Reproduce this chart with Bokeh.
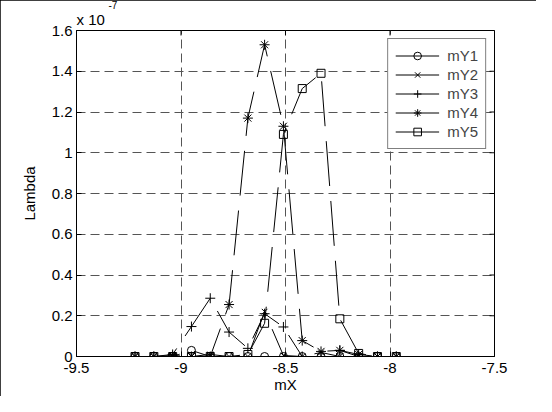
import math
from bokeh.plotting import figure
from bokeh.models import (Range1d, FixedTicker, Legend, LegendItem, Title,
                          ColumnDataSource)
from bokeh.embed import file_html
from bokeh.resources import INLINE

# ---- data (Lambda values in units of 1e-7) ----
mX = [-9.22, -9.13, -9.04, -8.95, -8.86, -8.77, -8.68, -8.60, -8.51, -8.42,
      -8.33, -8.24, -8.15, -8.06, -7.97]
mY1 = [0, 0, 0, 0.03, 0, 0, 0, 0, 0, 0, 0, 0, 0, 0, 0]
mY2 = [0, 0, 0.005, 0, 0.01, 0, 0.0, 0.22, 0.005, 0, 0.02, 0, 0, 0, 0]
mY3 = [0, 0, 0.01, 0.147, 0.286, 0.12, 0.04, 0.21, 0.145, 0, 0, 0.03, 0, 0, 0]
mY4 = [0, 0, 0, 0, 0, 0.255, 1.17, 1.53, 1.13, 0.078, 0.025, 0.03, 0.01, 0, 0]
mY5 = [0, 0, 0, 0, 0, 0, 0.01, 0.163, 1.09, 1.315, 1.39, 0.185, 0.015, 0, 0]

series_names = ["mY1", "mY2", "mY3", "mY4", "mY5"]
series_vals = [mY1, mY2, mY3, mY4, mY5]
markers = ["circle", "x", "cross", "asterisk", "square"]
marker_sizes = [8, 8, 10, 10, 8]

x_ticks = [-9.5, -9, -8.5, -8, -7.5]
x_tick_labels = ["-9.5", "-9", "-8.5", "-8", "-7.5"]
y_ticks = [0, 0.2, 0.4, 0.6, 0.8, 1.0, 1.2, 1.4, 1.6]
y_tick_labels = ["0", "0.2", "0.4", "0.6", "0.8", "1", "1.2", "1.4", "1.6"]

FONT = "Liberation Sans"
FS = "15px"

x0, x1 = -9.5, -7.5
y0, y1 = 0, 1.6

p = figure(width=536, height=396, x_range=Range1d(x0, x1),
           y_range=Range1d(y0, y1), output_backend="svg",
           toolbar_location=None, title_location=None,
           min_border_left=76, min_border_right=42,
           min_border_top=30, min_border_bottom=40)
p.styles = {"outline": "1px solid black", "outline-offset": "-1px"}
p.background_fill_color = "white"
p.border_fill_color = "white"
p.outline_line_color = "black"
p.outline_line_width = 1
p.outline_line_alpha = 1

xa = p.xaxis[0]
ya = p.yaxis[0]
xa.ticker = FixedTicker(ticks=x_ticks)
xa.major_label_overrides = {t: l for t, l in zip(x_ticks, x_tick_labels)}
ya.ticker = FixedTicker(ticks=y_ticks)
ya.major_label_overrides = {t: l for t, l in zip(y_ticks, y_tick_labels)}

for ax in (xa, ya):
    ax.major_tick_in = 5
    ax.major_tick_out = 0
    ax.minor_tick_line_color = None
    ax.axis_line_color = "black"
    ax.major_tick_line_color = "black"
    ax.major_label_text_font = FONT
    ax.major_label_text_font_size = FS
    ax.major_label_text_color = "black"
    ax.axis_label_text_font = FONT
    ax.axis_label_text_font_size = FS
    ax.axis_label_text_font_style = "normal"
    ax.axis_label_text_color = "black"

xa.major_label_standoff = 6
xa.axis_label = "mX"
xa.axis_label_standoff = 0
ya.major_label_standoff = 4
ya.axis_label = "Lambda"
ya.axis_label_standoff = 11

p.xgrid.ticker = FixedTicker(ticks=x_ticks)
p.ygrid.ticker = FixedTicker(ticks=y_ticks)
for g in (p.xgrid, p.ygrid):
    g.grid_line_color = "#555555"
    g.grid_line_dash = "9 5"
    g.grid_line_width = 1

# inward ticks on the top and right edges of the box (half of a dash
# marker centred on the edge, the outer half is clipped by the frame)
p.scatter(x=x_ticks, y=[y1] * len(x_ticks), marker="dash", angle=math.pi / 2,
          size=10, line_color="black", line_width=1)
p.scatter(x=[x1] * len(y_ticks), y=y_ticks, marker="dash", size=10,
          line_color="black", line_width=1)

items = []
for name, vals, mk, ms in zip(series_names, series_vals, markers, marker_sizes):
    src = ColumnDataSource(data=dict(x=mX, y=vals))
    ln = p.line("x", "y", source=src, line_color="black", line_width=1,
                line_dash="45 15")
    sc = p.scatter("x", "y", source=src, marker=mk, size=ms,
                   line_color="black", fill_color=None, line_width=1)
    items.append(LegendItem(label=name, renderers=[ln, sc]))

legend = Legend(items=items, location="top_right", margin=8, padding=7,
                spacing=0, label_height=19, glyph_height=19, glyph_width=44,
                label_standoff=8, border_line_color="black",
                border_line_width=1, label_text_font=FONT,
                label_text_font_size=FS, background_fill_color="white",
                background_fill_alpha=1)
p.add_layout(legend)

# exponent label above the y axis: "x 10" with superscript "-7"
p.add_layout(Title(text="x 10", align="left", offset=0, standoff=6,
                   text_font=FONT, text_font_size=FS, text_font_style="normal",
                   text_color="black"), "above")
p.add_layout(Title(text="-7", align="left", offset=32, standoff=-6,
                   text_font=FONT, text_font_size="10px",
                   text_font_style="normal", text_color="black"), "above")

open("out.html", "w").write(file_html(p, INLINE))
